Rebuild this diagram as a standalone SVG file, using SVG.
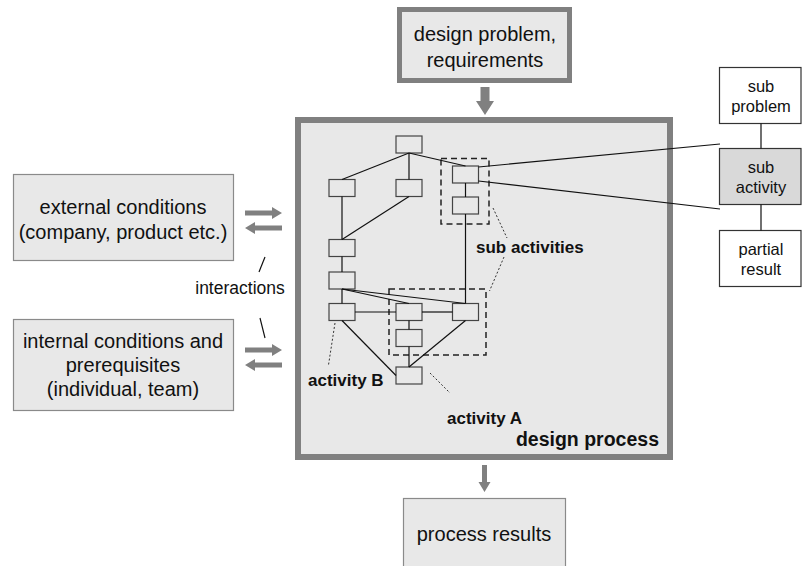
<svg xmlns="http://www.w3.org/2000/svg" width="802" height="566" viewBox="0 0 802 566">
  <style>
    text { font-family: "Liberation Sans", Arial, sans-serif; fill: #111; }
    .t { font-size: 20px; text-anchor: middle; }
    .ts { font-size: 16.5px; text-anchor: middle; }
    .b { font-size: 17px; font-weight: bold; }
    .title { font-size: 19.5px; font-weight: bold; text-anchor: end; }
    .box { fill: #e8e8e8; stroke: #8a8a8a; stroke-width: 1.2; }
    .thick { fill: #e8e8e8; stroke: #808080; }
    .wbox { fill: #ffffff; stroke: #333; stroke-width: 1.2; }
    .act { fill: #e8e8e8; stroke: #444; stroke-width: 1.2; }
    .ln { stroke: #111; stroke-width: 1.2; fill: none; }
    .dash { stroke: #222; stroke-width: 1.5; stroke-dasharray: 6 4; fill: none; }
    .dot { stroke: #333; stroke-width: 1; stroke-dasharray: 2 2; fill: none; }
    .garrow { fill: #808080; }
  </style>

  <!-- design process frame -->
  <g id="design-process">
    <rect class="thick" x="298" y="120" width="372" height="337" stroke-width="6"/>
    <text class="title" x="659" y="446">design process</text>
  </g>

  <!-- input -->
  <g id="design-problem">
    <rect class="thick" x="399.5" y="9.5" width="170" height="71" stroke-width="5"/>
    <text class="t" x="485" y="41">design problem,</text>
    <text class="t" x="485" y="67">requirements</text>
  </g>

  <!-- output -->
  <g id="process-results">
    <rect class="box" x="403.5" y="498.5" width="162" height="80"/>
    <text class="t" x="484" y="541">process results</text>
  </g>

  <!-- conditions -->
  <g id="external-conditions">
    <rect class="box" x="13.5" y="174.5" width="220" height="86"/>
    <text class="t" x="123" y="214">external conditions</text>
    <text class="t" x="123" y="239">(company, product etc.)</text>
  </g>
  <g id="internal-conditions">
    <rect class="box" x="13.5" y="319.5" width="220" height="91"/>
    <text class="t" x="123" y="348">internal conditions and</text>
    <text class="t" x="123" y="372">prerequisites</text>
    <text class="t" x="123" y="396">(individual, team)</text>
  </g>
  <g id="interactions">
    <text x="240" y="294" font-size="17.5" text-anchor="middle">interactions</text>
    <line class="ln" x1="265" y1="257" x2="259" y2="272"/>
    <line class="ln" x1="260" y1="318" x2="265" y2="338"/>
  </g>

  <!-- sub activity detail -->
  <g id="sub-problem">
    <rect class="wbox" x="719.5" y="67.5" width="81.5" height="56"/>
    <text class="ts" x="761" y="92">sub</text>
    <text class="ts" x="761" y="112">problem</text>
  </g>
  <g id="sub-activity">
    <rect class="wbox" x="719.5" y="148.5" width="81.5" height="56" style="fill:#d9d9d9"/>
    <text class="ts" x="761" y="173">sub</text>
    <text class="ts" x="761" y="193">activity</text>
  </g>
  <g id="partial-result">
    <rect class="wbox" x="719.5" y="230.5" width="81.5" height="56"/>
    <text class="ts" x="761" y="255">partial</text>
    <text class="ts" x="761" y="275">result</text>
  </g>

  <!-- activity network -->
  <g id="activities">
    <rect id="a-top" class="act" x="396" y="136" width="26" height="17"/>
    <rect id="a-l2" class="act" x="329" y="179.5" width="26" height="17"/>
    <rect id="a-m2" class="act" x="396" y="179.5" width="26" height="17"/>
    <rect id="a-s1" class="act" x="452.5" y="166" width="26" height="17"/>
    <rect id="a-s2" class="act" x="452.5" y="197" width="26" height="17"/>
    <rect id="a-l3" class="act" x="329" y="239.5" width="26" height="17"/>
    <rect id="a-l4" class="act" x="329" y="272" width="26" height="17"/>
    <rect id="a-b" class="act" x="329" y="303.5" width="26" height="17"/>
    <rect id="a-m5" class="act" x="396" y="303.5" width="26" height="17"/>
    <rect id="a-r5" class="act" x="452.5" y="303.5" width="26" height="17"/>
    <rect id="a-m6" class="act" x="396" y="329.5" width="26" height="17"/>
    <rect id="a-a" class="act" x="396" y="367" width="26" height="17"/>
  </g>

  <g id="groups">
    <rect class="dash" x="441" y="158.5" width="48" height="65.5"/>
    <rect class="dash" x="389" y="289" width="97" height="66"/>
  </g>

  <g id="labels">
    <text class="b" x="476" y="253">sub activities</text>
    <text class="b" x="308" y="386">activity B</text>
    <text class="b" x="447" y="424">activity A</text>
    <line class="dot" x1="493" y1="208" x2="507" y2="238"/>
    <line class="dot" x1="504" y1="257" x2="489.5" y2="291"/>
    <line class="dot" x1="335" y1="323" x2="328.5" y2="365"/>
    <line class="dot" x1="430" y1="373" x2="450" y2="393"/>
  </g>

  <!-- connectors -->
  <g id="connectors">
    <line class="ln" x1="409" y1="153" x2="342" y2="179.5"/>
    <line class="ln" x1="409" y1="153" x2="409" y2="179.5"/>
    <line class="ln" x1="409" y1="153" x2="465.5" y2="166"/>
    <line class="ln" x1="342" y1="196.5" x2="342" y2="239.5"/>
    <line class="ln" x1="409" y1="196.5" x2="342" y2="239.5"/>
    <line class="ln" x1="342" y1="256.5" x2="342" y2="272"/>
    <line class="ln" x1="465.5" y1="183" x2="465.5" y2="197"/>
    <line class="ln" x1="465.5" y1="214" x2="465.5" y2="303.5"/>
    <line class="ln" x1="342" y1="289" x2="342" y2="303.5"/>
    <line class="ln" x1="342" y1="289" x2="409" y2="303.5"/>
    <line class="ln" x1="342" y1="289" x2="465.5" y2="303.5"/>
    <line class="ln" x1="355" y1="312" x2="396" y2="312"/>
    <line class="ln" x1="422" y1="312" x2="452.5" y2="312"/>
    <line class="ln" x1="409" y1="320.5" x2="409" y2="329.5"/>
    <line class="ln" x1="409" y1="346.5" x2="409" y2="367"/>
    <line class="ln" x1="342" y1="320.5" x2="396" y2="375.5"/>
    <line class="ln" x1="465.5" y1="320.5" x2="409" y2="367"/>
    <!-- zoom lines to the sub activity detail -->
    <line class="ln" x1="478.5" y1="167" x2="720" y2="144"/>
    <line class="ln" x1="478.5" y1="181" x2="720" y2="209"/>
    <line class="ln" x1="761" y1="123.5" x2="761" y2="148.5"/>
    <line class="ln" x1="761" y1="204.5" x2="761" y2="230.5"/>
    <!-- flow arrows -->
    <polygon class="garrow" points="480.5,87 489.5,87 489.5,101 494,101 485,115 476,101 480.5,101"/>
    <polygon class="garrow" points="482,465 487,465 487,482 490.5,482 484.5,492 478.5,482 482,482"/>
    <polygon class="garrow" points="245,210.5 272,210.5 272,207 282,213 272,219 272,215.5 245,215.5"/>
    <polygon class="garrow" points="282,225.5 255,225.5 255,222 245,228 255,234 255,230.5 282,230.5"/>
    <polygon class="garrow" points="245,347.5 272,347.5 272,344 282,350 272,356 272,352.5 245,352.5"/>
    <polygon class="garrow" points="282,362.5 255,362.5 255,359 245,365 255,371 255,367.5 282,367.5"/>
  </g>
</svg>
